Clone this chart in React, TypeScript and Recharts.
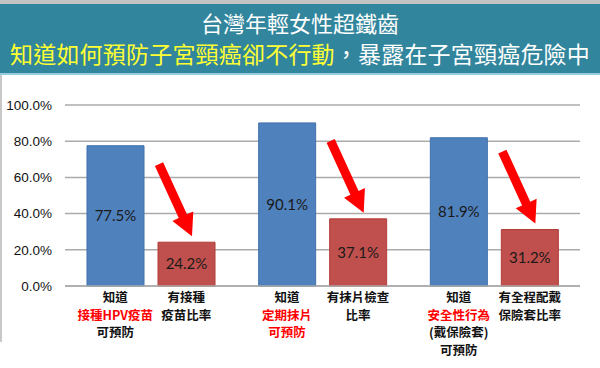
import { BarChart, Bar, XAxis, YAxis, CartesianGrid, LabelList } from "recharts";

const categories = ["HPV", "抹片", "保險套"];
const knowRates = [77.5, 90.1, 81.9];
const actRates = [24.2, 37.1, 31.2];
const yTicks = [0, 20, 40, 60, 80, 100];

type Line = { text: string; color: string };

const knowLabels: Line[][] = [
  [
    { text: "知道", color: "#111" },
    { text: "接種HPV疫苗", color: "#ff0000" },
    { text: "可預防", color: "#111" },
  ],
  [
    { text: "知道", color: "#111" },
    { text: "定期抹片", color: "#ff0000" },
    { text: "可預防", color: "#ff0000" },
  ],
  [
    { text: "知道", color: "#111" },
    { text: "安全性行為", color: "#ff0000" },
    { text: "(戴保險套)", color: "#111" },
    { text: "可預防", color: "#111" },
  ],
];

const actLabels: Line[][] = [
  [
    { text: "有接種", color: "#111" },
    { text: "疫苗比率", color: "#111" },
  ],
  [
    { text: "有抹片檢查", color: "#111" },
    { text: "比率", color: "#111" },
  ],
  [
    { text: "有全程配戴", color: "#111" },
    { text: "保險套比率", color: "#111" },
  ],
];

const data = categories.map((c, i) => ({
  name: c,
  know: knowRates[i],
  act: actRates[i],
}));

const CJK = "'Noto Sans CJK TC', 'Noto Sans CJK SC', sans-serif";

function MultiTick(props: any) {
  const { x, y, index } = props;
  const groups = [
    { dx: -35.5, lines: knowLabels[index] },
    { dx: 35.5, lines: actLabels[index] },
  ];
  return (
    <g>
      {groups.map((g, gi) =>
        g.lines.map((l, li) => (
          <text
            key={`${gi}-${li}`}
            x={x + g.dx}
            y={y + 16 + li * 17.5}
            textAnchor="middle"
            fontFamily={CJK}
            fontWeight={700}
            fontSize={12.5}
            fill={l.color}
          >
            {l.text}
          </text>
        ))
      )}
    </g>
  );
}

function Arrow(props: any) {
  const { x, y } = props;
  const x1 = x + 1;
  const y1 = y - 78;
  const x2 = x + 34;
  const y2 = y - 6;
  const dx = x2 - x1;
  const dy = y2 - y1;
  const len = Math.sqrt(dx * dx + dy * dy);
  const ux = dx / len;
  const uy = dy / len;
  const nx = -uy;
  const ny = ux;
  const sw = 4.5;
  const hw = 11.5;
  const hl = 22;
  const bx = x2 - ux * hl;
  const by = y2 - uy * hl;
  const pts = [
    [x1 + nx * sw, y1 + ny * sw],
    [bx + nx * sw, by + ny * sw],
    [bx + nx * hw, by + ny * hw],
    [x2, y2],
    [bx - nx * hw, by - ny * hw],
    [bx - nx * sw, by - ny * sw],
    [x1 - nx * sw, y1 - ny * sw],
  ]
    .map((p) => p.join(","))
    .join(" ");
  return <polygon points={pts} fill="#ff0000" />;
}

export default function App() {
  return (
    <div
      style={{
        position: "absolute",
        left: 0,
        top: 0,
        width: 600,
        height: 368,
        background: "#fff",
        overflow: "hidden",
      }}
    >
      <div style={{ position: "absolute", left: 0, top: 0, width: 600, height: 4, background: "#c4c4c4" }} />
      <div
        style={{
          position: "absolute",
          left: 0,
          top: 4,
          width: 600,
          height: 69,
          background: "#31859c",
          fontFamily: CJK,
          textAlign: "center",
          color: "#fff",
        }}
      >
        <div style={{ position: "absolute", top: 4, width: 600, fontSize: 22, lineHeight: "28px" }}>
          台灣年輕女性超鐵齒
        </div>
        <div style={{ position: "absolute", top: 34, width: 600, fontSize: 23, lineHeight: "30px", letterSpacing: 0.2 }}>
          <span style={{ color: "#ffff33" }}>知道如何預防子宮頸癌卻不行動</span>，暴露在子宮頸癌危險中
        </div>
      </div>
      <div style={{ position: "absolute", left: 0, top: 73, width: 600, height: 2, background: "#92cddc" }} />
      <div style={{ position: "absolute", left: 0, top: 75, width: 2, height: 267, background: "#c8c8c8" }} />
      <div style={{ position: "absolute", left: 0, top: 0 }}>
        <BarChart
          width={600}
          height={368}
          data={data}
          margin={{ top: 105, right: 20, bottom: 0, left: 0 }}
          barSize={57}
          barGap={14}
        >
          <CartesianGrid vertical={false} stroke="#ababab" strokeWidth={1.5} />
          <XAxis
            dataKey="name"
            height={82}
            tickLine={false}
            axisLine={{ stroke: "#ababab", strokeWidth: 1.5 }}
            tickSize={0}
            tickMargin={0}
            interval={0}
            tick={<MultiTick />}
          />
          <YAxis
            width={65}
            domain={[0, 100]}
            ticks={yTicks}
            tickFormatter={(v: number) => `${v.toFixed(1)}%`}
            tickLine={false}
            axisLine={false}
            tickSize={0}
            tickMargin={13}
            tick={{ fill: "#111", fontSize: 13.5, fontFamily: "'Liberation Sans', Arial, sans-serif" }}
          />
          <Bar dataKey="know" fill="#4f81bd" stroke="#3f71ad" strokeWidth={1} isAnimationActive={false}>
            <LabelList
              dataKey="know"
              position="center"
              formatter={(v: any) => `${Number(v).toFixed(1)}%`}
              fill="#1a1a1a"
              fontSize={15}
              fontFamily="Lato, 'Liberation Sans', sans-serif"
            />
          </Bar>
          <Bar dataKey="act" fill="#c0504d" stroke="#b03c39" strokeWidth={1} isAnimationActive={false}>
            <LabelList
              dataKey="act"
              position="center"
              formatter={(v: any) => `${Number(v).toFixed(1)}%`}
              fill="#1a1a1a"
              fontSize={15}
              fontFamily="Lato, 'Liberation Sans', sans-serif"
            />
            <LabelList dataKey="act" content={<Arrow />} />
          </Bar>
        </BarChart>
      </div>
    </div>
  );
}
